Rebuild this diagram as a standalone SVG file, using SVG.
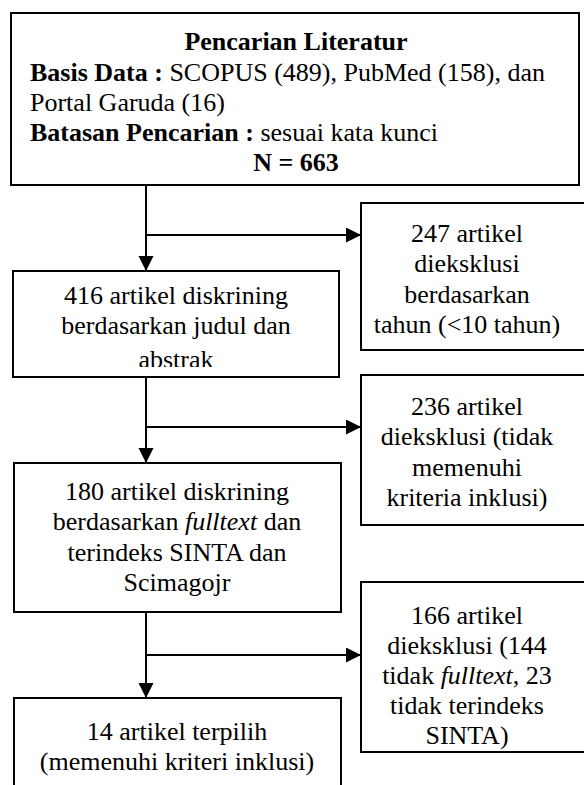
<svg xmlns="http://www.w3.org/2000/svg" width="584" height="785" viewBox="0 0 584 785">
<style>
.box{fill:#fff;stroke:#000;stroke-width:2}
text{font-family:'Liberation Serif','Times New Roman','DejaVu Serif',serif;font-size:26px;fill:#000}
.c{text-anchor:middle}
.b{font-weight:bold}
.i{font-style:italic}
.ln{fill:none;stroke:#000;stroke-width:2}
</style>
<defs>
<marker id="ah" markerUnits="userSpaceOnUse" markerWidth="16" markerHeight="16" refX="15" refY="7.5" orient="auto">
<path d="M0,0 L15,7.5 L0,15 Z" fill="#000"/>
</marker>
<clipPath id="clip2"><rect x="13" y="271" width="326" height="96"/></clipPath>
</defs>

<g id="n-search">
<rect class="box" x="11" y="13" width="568" height="172"/>
<text class="c b" x="296" y="50" font-family="Liberation Serif, serif">Pencarian Literatur</text>
<text x="30" y="81" font-family="Liberation Serif, serif"><tspan class="b">Basis Data :</tspan> SCOPUS (489), PubMed (158), dan</text>
<text x="30" y="111" font-family="Liberation Serif, serif">Portal Garuda (16)</text>
<text x="30" y="141" font-family="Liberation Serif, serif"><tspan class="b">Batasan Pencarian :</tspan> sesuai kata kunci</text>
<text class="c b" x="296" y="171" font-family="Liberation Serif, serif">N = 663</text>
</g>

<g id="n-excl1">
<rect class="box" x="361" y="203" width="240" height="147"/>
<text class="c" x="467" y="242">247 artikel</text>
<text class="c" x="467" y="272">dieksklusi</text>
<text class="c" x="467" y="303">berdasarkan</text>
<text class="c" x="467" y="333">tahun (&lt;10 tahun)</text>
</g>

<g id="n-screen1">
<rect class="box" x="13" y="271" width="326" height="106"/>
<g clip-path="url(#clip2)">
<text class="c" x="176" y="304">416 artikel diskrining</text>
<text class="c" x="176" y="334">berdasarkan judul dan</text>
<text class="c" x="176" y="368">abstrak</text>
</g>
</g>

<g id="n-excl2">
<rect class="box" x="361" y="375" width="240" height="150"/>
<text class="c" x="467" y="415">236 artikel</text>
<text class="c" x="467" y="445">dieksklusi (tidak</text>
<text class="c" x="467" y="476">memenuhi</text>
<text class="c" x="467" y="506">kriteria inklusi)</text>
</g>

<g id="n-screen2">
<rect class="box" x="14" y="463" width="327" height="149"/>
<text class="c" x="177" y="500">180 artikel diskrining</text>
<text class="c" x="177" y="530">berdasarkan <tspan class="i">fulltext</tspan> dan</text>
<text class="c" x="177" y="561">terindeks SINTA dan</text>
<text class="c" x="177" y="591">Scimagojr</text>
</g>

<g id="n-excl3">
<rect class="box" x="361" y="582" width="240" height="170"/>
<text class="c" x="467" y="624">166 artikel</text>
<text class="c" x="467" y="654">dieksklusi (144</text>
<text class="c" x="467" y="684">tidak <tspan class="i">fulltext</tspan>, 23</text>
<text class="c" x="467" y="714">tidak terindeks</text>
<text class="c" x="467" y="744">SINTA)</text>
</g>

<g id="n-final">
<rect class="box" x="14" y="698" width="327" height="120"/>
<text class="c" x="177" y="740">14 artikel terpilih</text>
<text class="c" x="177" y="770">(memenuhi kriteri inklusi)</text>
</g>

<g id="connectors">
<line class="ln" x1="146" y1="185" x2="146" y2="271" marker-end="url(#ah)"/>
<line class="ln" x1="146" y1="235" x2="361" y2="235" marker-end="url(#ah)"/>
<line class="ln" x1="146" y1="377" x2="146" y2="463" marker-end="url(#ah)"/>
<line class="ln" x1="146" y1="427" x2="361" y2="427" marker-end="url(#ah)"/>
<line class="ln" x1="146" y1="612" x2="146" y2="698" marker-end="url(#ah)"/>
<line class="ln" x1="146" y1="655" x2="361" y2="655" marker-end="url(#ah)"/>
</g>
</svg>
